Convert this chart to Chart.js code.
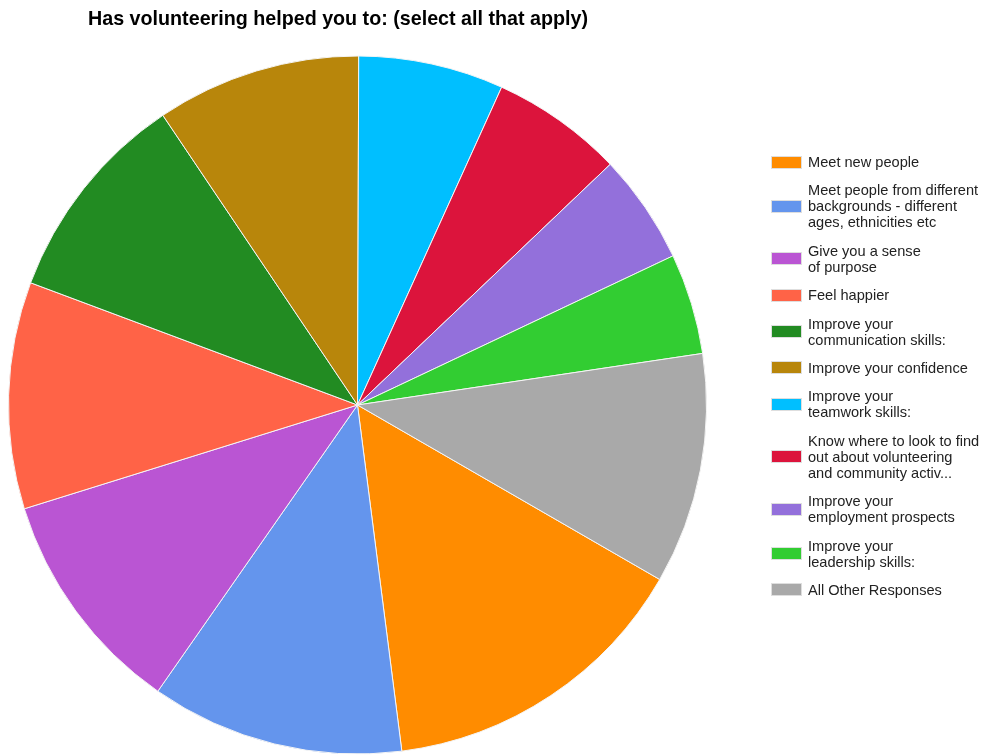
<!DOCTYPE html>
<html>
<head>
<meta charset="utf-8">
<script src="https://cdn.jsdelivr.net/npm/chart.js@4.4.0/dist/chart.umd.min.js"></script>
<style>
html,body{margin:0;padding:0;background:#fff;}
#wrap{width:984px;height:755px;position:relative;}
</style>
</head>
<body>
<div id="wrap"><canvas id="c" width="984" height="755"></canvas></div>
<script>
const titleText = "Has volunteering helped you to: (select all that apply)";
const categories = [
  ["Meet new people"],
  ["Meet people from different", "backgrounds - different", "ages, ethnicities etc"],
  ["Give you a sense", "of purpose"],
  ["Feel happier"],
  ["Improve your", "communication skills:"],
  ["Improve your confidence"],
  ["Improve your", "teamwork skills:"],
  ["Know where to look to find", "out about volunteering", "and community activ..."],
  ["Improve your", "employment prospects"],
  ["Improve your", "leadership skills:"],
  ["All Other Responses"]
];
const values = [52.7, 42.2, 37.8, 37.8, 35.6, 34.1, 24.2, 22.0, 18.3, 16.8, 38.5];
const colors = ["#FF8C00", "#6495ED", "#BA55D3", "#FF6347", "#228B22", "#B8860B", "#00BFFF", "#DC143C", "#9370DB", "#32CD32", "#A9A9A9"];

const titlePlugin = {
  id: 'customTitle',
  afterDraw(chart) {
    const ctx = chart.ctx;
    ctx.save();
    ctx.fillStyle = '#000';
    ctx.font = 'bold 19.7px "Liberation Sans", Arial, sans-serif';
    ctx.textAlign = 'center';
    ctx.textBaseline = 'alphabetic';
    ctx.fillText(titleText, 338, 25);
    ctx.restore();
  }
};

const legendPlugin = {
  id: 'customLegend',
  afterDraw(chart) {
    const ctx = chart.ctx;
    const labels = chart.data.labels;
    const bg = chart.data.datasets[0].backgroundColor;
    const lineH = 16, gap = 12.4, boxW = 29, boxH = 11;
    const boxX = 772, textX = 808;
    let top = 154;
    ctx.save();
    ctx.font = '14.6px "Liberation Sans", Arial, sans-serif';
    ctx.textBaseline = 'middle';
    ctx.textAlign = 'left';
    labels.forEach((lines, i) => {
      const h = lines.length * lineH;
      const cy = top + h / 2;
      ctx.fillStyle = bg[i];
      ctx.fillRect(boxX, Math.round(cy - boxH / 2), boxW, boxH);
      ctx.strokeStyle = 'rgba(200,200,200,0.6)';
      ctx.lineWidth = 1;
      ctx.strokeRect(boxX - 0.5, Math.round(cy - boxH / 2) - 0.5, boxW + 1, boxH + 1);
      ctx.fillStyle = '#222';
      lines.forEach((t, j) => {
        ctx.fillText(t, textX, top + j * lineH + lineH / 2 + 1);
      });
      top += h + gap;
    });
    ctx.restore();
  }
};

new Chart(document.getElementById('c'), {
  type: 'pie',
  data: {
    labels: categories,
    datasets: [{
      data: values,
      backgroundColor: colors,
      borderColor: '#f4f4f4',
      borderWidth: 1
    }]
  },
  options: {
    responsive: false,
    devicePixelRatio: 1,
    animation: false,
    rotation: 120,
    radius: 349,
    layout: { padding: { left: 0, right: 269, top: 56, bottom: 1 } },
    plugins: {
      legend: { display: false },
      title: { display: false },
      tooltip: { enabled: false }
    }
  },
  plugins: [titlePlugin, legendPlugin]
});
</script>
</body>
</html>
